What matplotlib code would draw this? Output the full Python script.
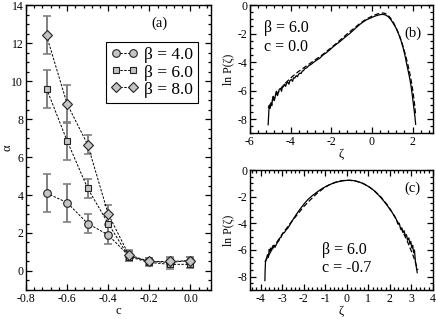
import matplotlib
matplotlib.use("Agg")
import matplotlib.pyplot as plt
from matplotlib.ticker import MultipleLocator

plt.rcParams['font.family'] = ['Liberation Serif', 'DejaVu Serif']
plt.rcParams['mathtext.fontset'] = 'stix'
plt.rcParams['axes.unicode_minus'] = False

# ---------------- data: panel (a) ----------------
c_vals = [-0.7, -0.6, -0.5, -0.4, -0.3, -0.2, -0.1, 0.0]
alpha_b4 = [4.1, 3.6, 2.5, 1.9, 0.8, 0.5, 0.45, 0.55]
err_b4 = [1.0, 1.0, 0.5, 0.5, 0.25, 0.2, 0.25, 0.2]
alpha_b6 = [9.6, 6.85, 4.35, 2.5, 0.75, 0.45, 0.35, 0.35]
err_b6 = [1.0, 1.0, 0.5, 0.5, 0.25, 0.2, 0.25, 0.2]
alpha_b8 = [12.4, 8.8, 6.65, 3.0, 0.85, 0.5, 0.5, 0.55]
err_b8 = [1.0, 1.0, 0.5, 0.5, 0.25, 0.2, 0.25, 0.2]
labels_a = ['β = 4.0', 'β = 6.0', 'β = 8.0']
markers_a = ['o', 's', 'D']

# ---------------- data: panel (b) ----------------
zeta_b = [-5.10, -5.07, -5.05, -5.00, -4.95, -4.92, -4.88, -4.85, -4.80, -4.77,
          -4.72, -4.69, -4.64, -4.61, -4.55, -4.49, -4.44, -4.40, -4.36, -4.30,
          -4.24, -4.20, -4.14, -4.08, -4.03, -3.96, -3.90, -3.85, -3.79, -3.72,
          -3.66, -3.60, -3.54, -3.48, -3.42, -3.36, -3.30, -3.20, -3.10, -2.97,
          -2.85, -2.70, -2.56, -2.40, -2.25, -2.07, -1.90, -1.75, -1.57, -1.40,
          -1.25, -1.08, -0.90, -0.75, -0.59, -0.40, -0.25, -0.10, 0.10, 0.31,
          0.45, 0.56, 0.68, 0.80, 0.92, 1.05, 1.18, 1.30, 1.42, 1.54,
          1.62, 1.70, 1.78, 1.87, 1.93, 1.98, 2.03, 2.08, 2.12, 2.15]
lnp_b = [-8.40, -7.60, -7.05, -7.25, -6.85, -7.05, -6.55, -6.40, -6.70, -6.55,
         -6.15, -6.05, -6.35, -6.20, -5.90, -5.85, -6.05, -5.70, -5.75, -5.55,
         -5.70, -5.50, -5.40, -5.55, -5.30, -5.22, -5.35, -5.10, -5.12, -4.95,
         -5.02, -4.85, -4.77, -4.80, -4.62, -4.60, -4.45, -4.40, -4.25, -4.14,
         -4.00, -3.85, -3.72, -3.50, -3.35, -3.14, -2.92, -2.75, -2.56, -2.35,
         -2.17, -1.98, -1.75, -1.55, -1.35, -1.15, -1.02, -0.93, -0.80, -0.70,
         -0.66, -0.65, -0.70, -0.81, -1.00, -1.28, -1.60, -1.98, -2.45, -3.02,
         -3.50, -4.07, -4.60, -5.23, -5.75, -6.28, -6.85, -7.44, -7.90, -8.37]
zeta_b_fit = [-5.10, -4.80, -4.50, -4.20, -3.90, -3.60, -3.30, -3.00, -2.70, -2.40,
              -2.10, -1.80, -1.50, -1.20, -0.90, -0.60, -0.30, 0.00, 0.25, 0.45,
              0.60, 0.75, 0.90, 1.05, 1.20, 1.35, 1.50, 1.62, 1.74, 1.85,
              1.95, 2.03, 2.10, 2.15]
lnp_b_fit = [-7.20, -6.50, -5.90, -5.40, -5.00, -4.65, -4.35, -4.05, -3.75, -3.45,
             -3.10, -2.75, -2.38, -2.00, -1.65, -1.30, -1.00, -0.78, -0.63, -0.56,
             -0.56, -0.66, -0.88, -1.20, -1.62, -2.12, -2.75, -3.35, -4.00, -4.70,
             -5.45, -6.20, -7.00, -7.70]

# ---------------- data: panel (c) ----------------
zeta_c = [-3.80, -3.79, -3.77, -3.72, -3.68, -3.64, -3.60, -3.57, -3.53, -3.49,
          -3.44, -3.39, -3.33, -3.26, -3.20, -3.15, -3.11, -3.05, -2.98, -2.90,
          -2.82, -2.73, -2.62, -2.50, -2.35, -2.19, -2.00, -1.81, -1.62, -1.42,
          -1.20, -0.96, -0.73, -0.50, -0.27, -0.04, 0.15, 0.35, 0.58, 0.81,
          1.04, 1.27, 1.50, 1.73, 1.93, 2.12, 2.22, 2.30, 2.37, 2.44,
          2.50, 2.56, 2.61, 2.66, 2.72, 2.77, 2.82, 2.88, 2.93, 2.97,
          3.02, 3.06, 3.10, 3.14, 3.19, 3.24, 3.27]
lnp_c = [-8.30, -7.50, -6.85, -6.60, -6.35, -6.55, -5.95, -6.10, -5.85, -6.05,
         -5.70, -5.65, -5.80, -5.55, -5.40, -5.30, -5.10, -5.05, -4.75, -4.70,
         -4.50, -4.35, -4.05, -3.72, -3.35, -2.98, -2.58, -2.22, -1.95, -1.70,
         -1.45, -1.22, -1.05, -0.92, -0.83, -0.78, -0.77, -0.80, -0.90, -1.05,
         -1.27, -1.55, -1.92, -2.35, -2.78, -3.22, -3.50, -3.70, -4.05, -4.00,
         -4.45, -4.35, -4.70, -4.55, -4.95, -4.85, -5.25, -5.10, -5.55, -5.35,
         -5.85, -5.65, -6.20, -6.00, -6.90, -7.40, -7.70]
zeta_c_fit = [-3.80, -3.50, -3.20, -2.90, -2.60, -2.30, -2.00, -1.70, -1.40, -1.10,
              -0.80, -0.50, -0.20, 0.10, 0.40, 0.70, 1.00, 1.30, 1.60, 1.90,
              2.20, 2.50, 2.80, 3.10, 3.30]
lnp_c_fit = [-6.90, -6.05, -5.30, -4.60, -3.95, -3.35, -2.75, -2.25, -1.78, -1.40,
             -1.10, -0.90, -0.79, -0.77, -0.82, -0.97, -1.22, -1.58, -2.05, -2.65,
             -3.40, -4.30, -5.30, -6.50, -7.50]

# ---------------- figure ----------------
fig = plt.figure(figsize=(4.36, 3.19), dpi=100)
axa = fig.add_axes([0.0596, 0.091, 0.4244, 0.893])
axb = fig.add_axes([0.573, 0.582, 0.420, 0.402])
axc = fig.add_axes([0.573, 0.091, 0.420, 0.376])


def style(ax, xmaj, xmin, ymaj, ymin):
    ax.xaxis.set_major_locator(MultipleLocator(xmaj))
    ax.xaxis.set_minor_locator(MultipleLocator(xmin))
    ax.yaxis.set_major_locator(MultipleLocator(ymaj))
    ax.yaxis.set_minor_locator(MultipleLocator(ymin))
    ax.tick_params(which='both', direction='in', top=True, right=True,
                   labelsize=8.5, pad=2, width=0.9)
    ax.tick_params(which='major', length=4)
    ax.tick_params(which='minor', length=2)
    for s in ax.spines.values():
        s.set_linewidth(1.0)


# panel (a)
series = [(alpha_b4, err_b4), (alpha_b6, err_b6), (alpha_b8, err_b8)]
handles = []
for (vals, errs), m, lab in zip(series, markers_a, labels_a):
    axa.errorbar(c_vals, vals, yerr=errs, fmt='none', ecolor='#808080',
                 elinewidth=1.4, capsize=3, capthick=1.2, zorder=2)
    h, = axa.plot(c_vals, vals, linestyle='--', dashes=(2.5, 1.5), color='black',
                  linewidth=0.7, marker=m, markersize=5.5 if m != 's' else 5,
                  markerfacecolor='#c4c4c4', markeredgecolor='#222222',
                  markeredgewidth=0.8, label=lab, zorder=3)
    handles.append(h)
axa.set_xlim(-0.8, 0.1)
axa.set_ylim(-1, 14)
style(axa, 0.2, 0.04, 2, 0.5)
axa.set_xlabel('c', fontsize=9, labelpad=0)
axa.set_ylabel('α', fontsize=9, va='center')
axa.yaxis.set_label_coords(-0.1, 0.5)
leg = axa.legend(handles=handles, loc='upper left', bbox_to_anchor=(0.43, 0.87),
                 fontsize=12.5, frameon=True, fancybox=False, edgecolor='black',
                 framealpha=1, handlelength=1.6, handletextpad=0.3, numpoints=2,
                 labelspacing=0.05, borderpad=0.3, borderaxespad=0)
leg.get_frame().set_linewidth(0.8)
axa.text(0.72, 0.935, '(a)', transform=axa.transAxes, fontsize=10.5,
         ha='center', va='center')

# panel (b)
axb.plot(zeta_b, lnp_b, color='black', linewidth=0.9)
axb.plot(zeta_b_fit, lnp_b_fit, color='black', linewidth=0.9, linestyle='--',
         dashes=(4, 2))
axb.set_xlim(-6, 3)
axb.set_ylim(-9, 0)
style(axb, 2, 0.4, 2, 0.5)
axb.set_xlabel('ζ', fontsize=9, labelpad=0)
axb.set_ylabel('ln P(ζ)', fontsize=8.5, labelpad=2)
axb.text(0.08, 0.82, 'β = 6.0', transform=axb.transAxes, fontsize=11.5, va='center')
axb.text(0.08, 0.67, 'c = 0.0', transform=axb.transAxes, fontsize=11.5, va='center')
axb.text(0.89, 0.78, '(b)', transform=axb.transAxes, fontsize=10.5,
         ha='center', va='center')

# panel (c)
axc.plot(zeta_c, lnp_c, color='black', linewidth=0.9)
axc.plot(zeta_c_fit, lnp_c_fit, color='black', linewidth=0.9, linestyle='--',
         dashes=(4, 2))
axc.set_xlim(-4.5, 4)
axc.set_ylim(-9, 0)
style(axc, 1, 0.2, 2, 0.5)
axc.set_xlabel('ζ', fontsize=9, labelpad=0)
axc.set_ylabel('ln P(ζ)', fontsize=8.5, labelpad=2)
axc.text(0.395, 0.33, 'β = 6.0', transform=axc.transAxes, fontsize=11.5, va='center')
axc.text(0.395, 0.18, 'c = -0.7', transform=axc.transAxes, fontsize=11.5, va='center')
axc.text(0.89, 0.85, '(c)', transform=axc.transAxes, fontsize=10.5,
         ha='center', va='center')

fig.savefig('out.png', dpi=100)
